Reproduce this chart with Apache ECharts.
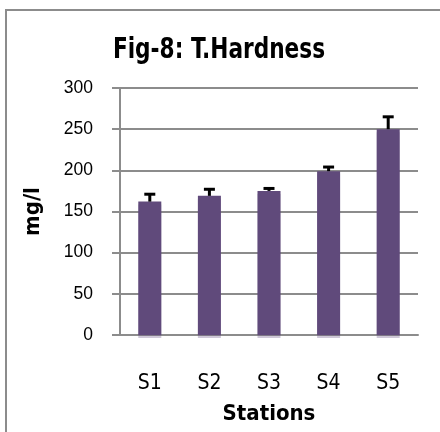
<!DOCTYPE html>
<html>
<head>
<meta charset="utf-8">
<style>
  html, body { margin: 0; padding: 0; background: #ffffff; }
  #chart { width: 440px; height: 432px; }
</style>
<script src="https://cdn.jsdelivr.net/npm/echarts@6/dist/echarts.min.js"></script>
</head>
<body>
<div id="chart"></div>
<script>
const categories = ['S1', 'S2', 'S3', 'S4', 'S5'];
const hardness = [162, 169, 175, 199, 250];
const errorsPlus = [9, 8, 3, 5, 15];
const yTicks = { min: 0, max: 300, interval: 50 };
const titleText = 'Fig-8: T.Hardness';

const NARROW = "'DejaVu Sans Condensed', 'Liberation Sans', sans-serif";
const REG = "'Liberation Sans', Arial, sans-serif";
const GRID_COLOR = '#8c8c8c';

const errData = categories.map((c, i) => [i, hardness[i], hardness[i] + errorsPlus[i]]);

const chart = echarts.init(document.getElementById('chart'), null, { renderer: 'canvas' });
chart.setOption({
  animation: false,
  backgroundColor: '#ffffff',
  graphic: [{
    type: 'rect',
    shape: { x: 6, y: 10, width: 600, height: 600 },
    style: { fill: 'none', stroke: GRID_COLOR, lineWidth: 2 },
    silent: true
  }, {
    type: 'text',
    x: 219,
    y: 51,
    scaleX: 0.86,
    style: {
      text: titleText,
      fontFamily: NARROW,
      fontWeight: 'bold',
      fontSize: 28,
      fill: '#000',
      align: 'center',
      verticalAlign: 'middle'
    },
    silent: true
  }],
  grid: { left: 120, right: 22, top: 88, bottom: 97 },
  xAxis: {
    type: 'category',
    data: categories,
    axisLine: { lineStyle: { color: GRID_COLOR, width: 2 } },
    axisTick: { show: false },
    axisLabel: { fontFamily: NARROW, fontSize: 21, color: '#000', margin: 38 },
    name: 'Stations',
    nameLocation: 'middle',
    nameGap: 68,
    nameTextStyle: { fontFamily: NARROW, fontWeight: 'bold', fontSize: 22, color: '#000' }
  },
  yAxis: {
    type: 'value',
    min: yTicks.min,
    max: yTicks.max,
    interval: yTicks.interval,
    axisLine: { show: true, lineStyle: { color: GRID_COLOR, width: 2 } },
    axisTick: { show: true, length: 8, lineStyle: { color: GRID_COLOR, width: 2 } },
    splitLine: { lineStyle: { color: GRID_COLOR, width: 2 } },
    axisLabel: { fontFamily: REG, fontSize: 17.5, color: '#000', margin: 27 },
    name: 'mg/l',
    nameLocation: 'middle',
    nameRotate: 90,
    nameGap: 76,
    nameTextStyle: { fontFamily: NARROW, fontWeight: 'bold', fontSize: 22, color: '#000' }
  },
  series: [{
    type: 'bar',
    data: hardness,
    barWidth: 23,
    itemStyle: {
      color: '#604A7B',
      shadowColor: 'rgba(96,74,123,0.3)',
      shadowOffsetY: 3,
      shadowOffsetX: 0,
      shadowBlur: 0
    }
  }, {
    type: 'custom',
    data: errData,
    z: 5,
    renderItem: function (params, api) {
      const base = api.coord([api.value(0), api.value(1)]);
      const top = api.coord([api.value(0), api.value(2)]);
      const halfCap = 5.5;
      return {
        type: 'group',
        children: [{
          type: 'line',
          shape: { x1: base[0], y1: base[1], x2: top[0], y2: top[1] },
          style: { stroke: '#000', lineWidth: 3 }
        }, {
          type: 'line',
          shape: { x1: top[0] - halfCap, y1: top[1], x2: top[0] + halfCap, y2: top[1] },
          style: { stroke: '#000', lineWidth: 3 }
        }]
      };
    }
  }]
});
</script>
</body>
</html>
